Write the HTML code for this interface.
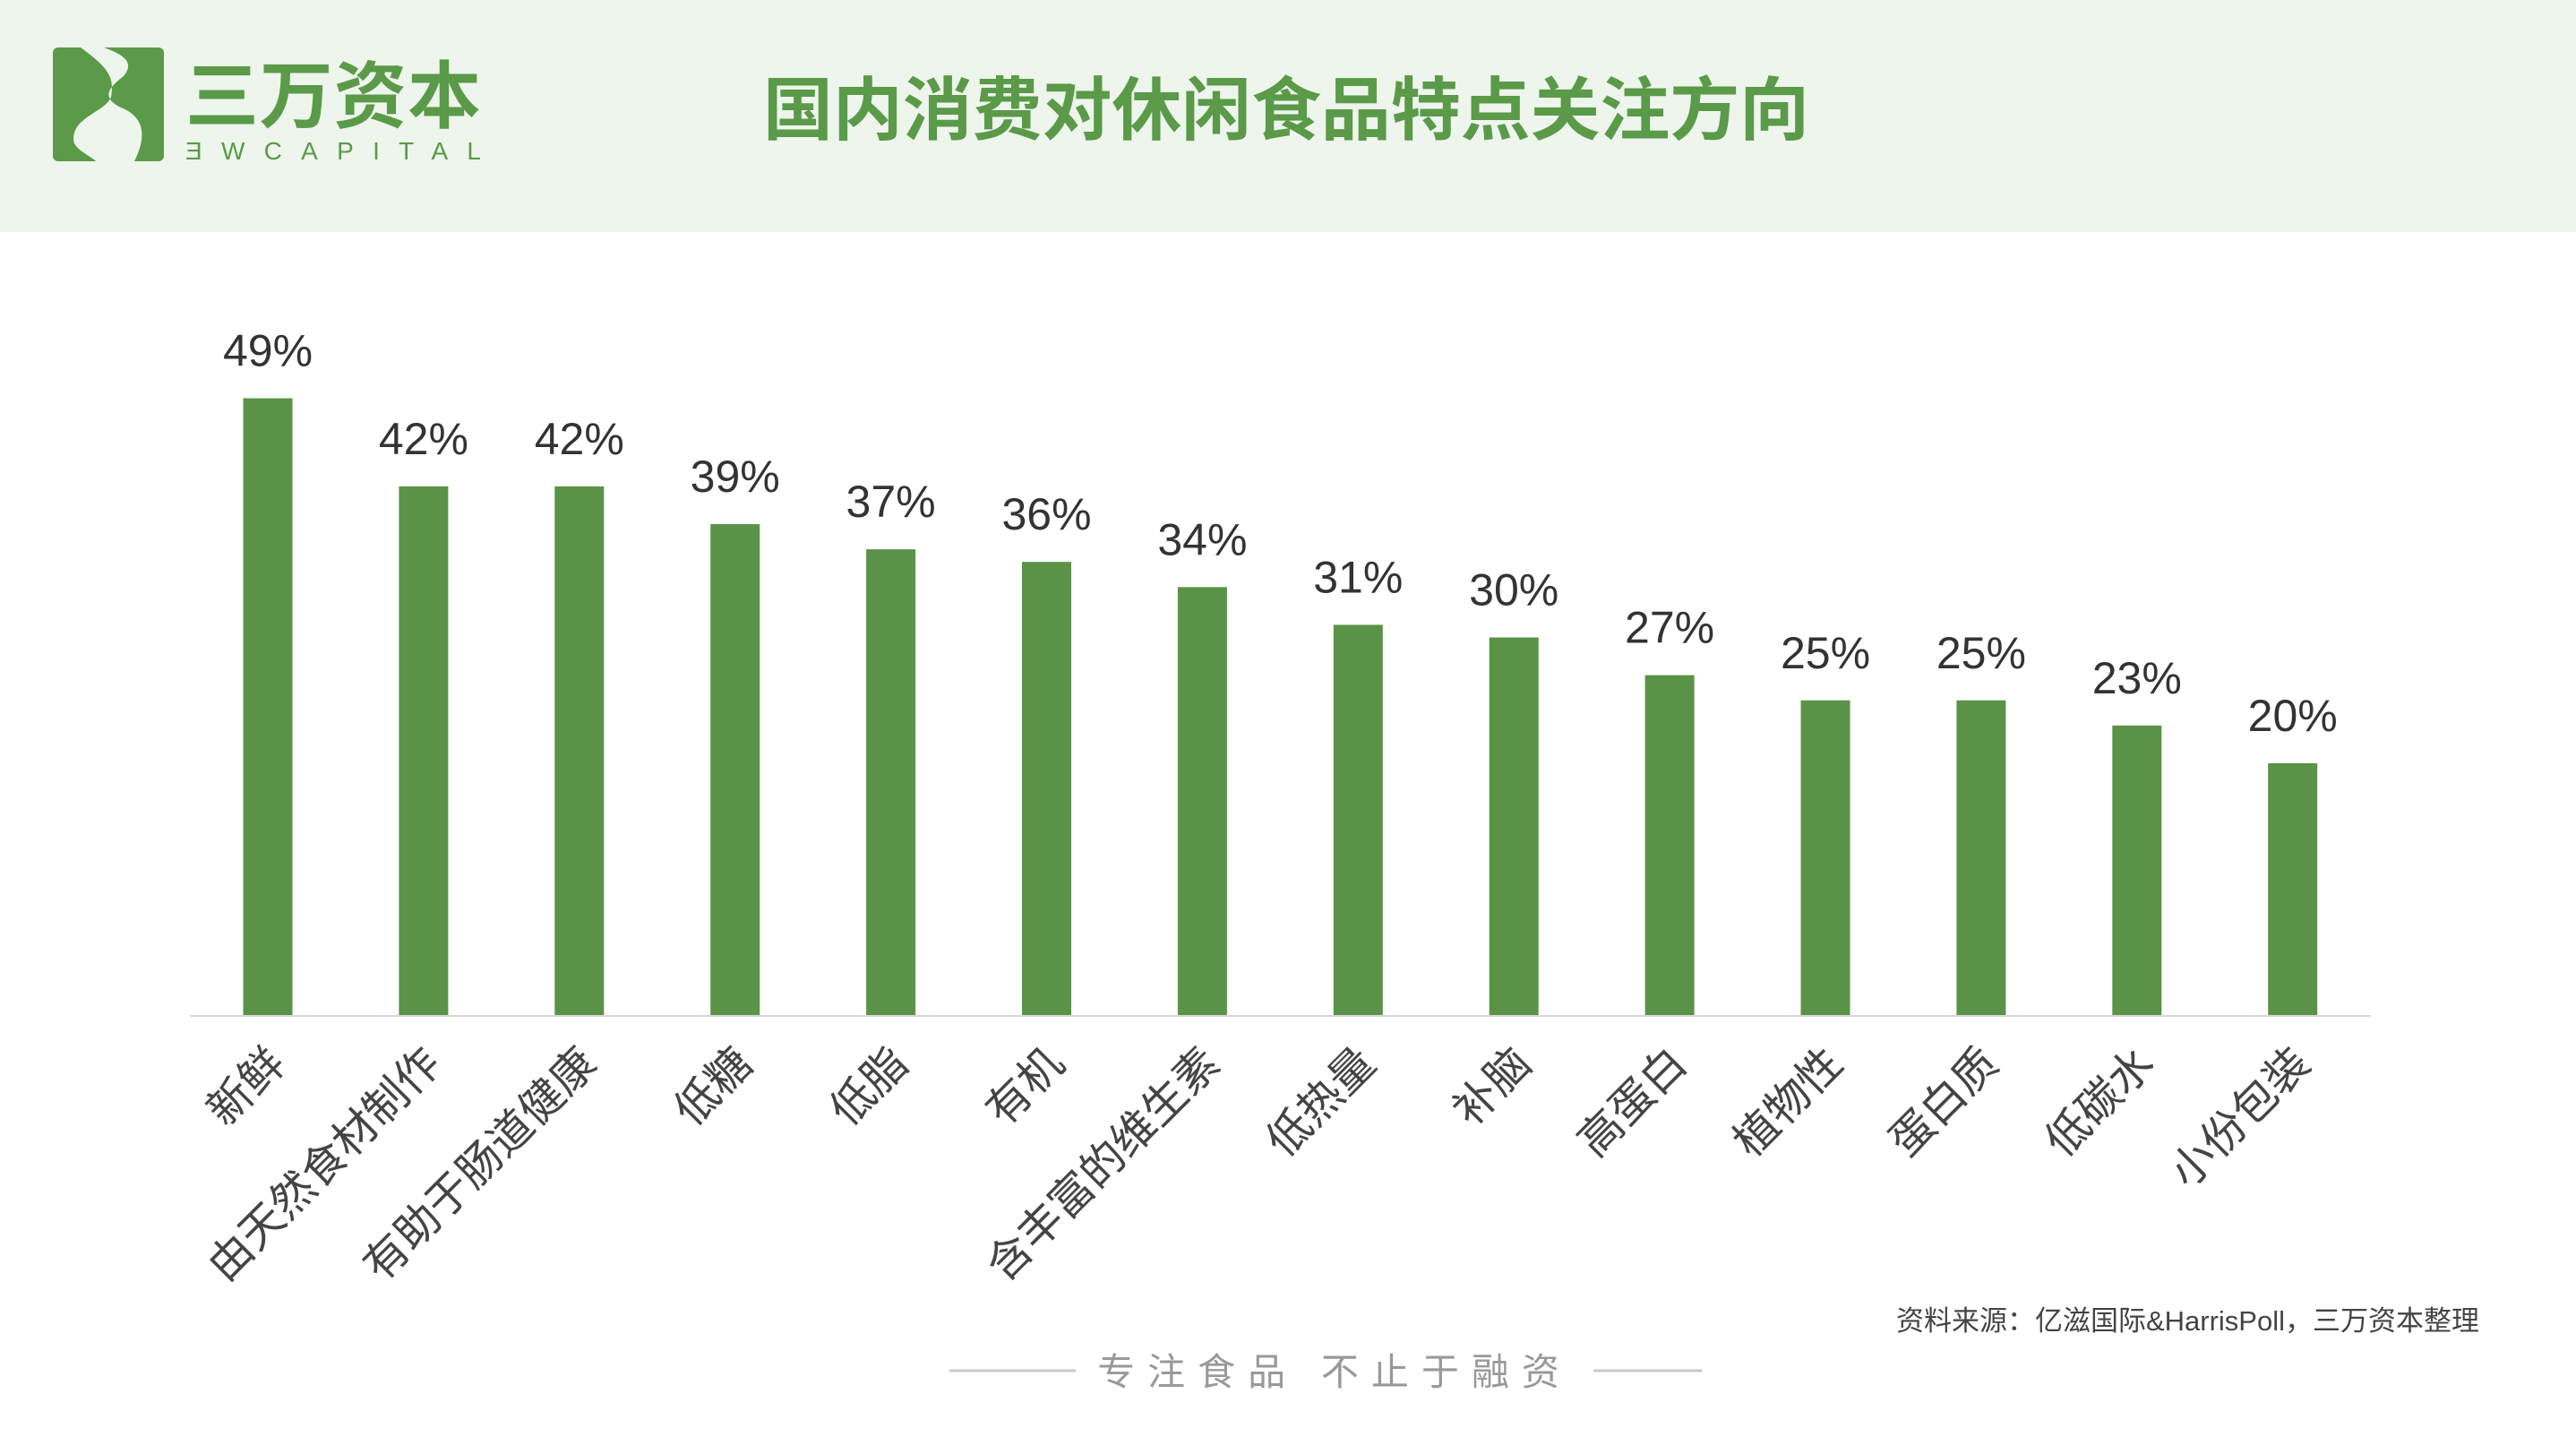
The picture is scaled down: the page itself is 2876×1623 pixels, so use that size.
<!DOCTYPE html>
<html><head><meta charset="utf-8">
<style>
html,body{margin:0;padding:0;background:#fff;}
body{width:2876px;height:1618px;overflow:hidden;font-family:"Liberation Sans","Noto Sans CJK SC",sans-serif;}
svg text{font-family:"Liberation Sans","Noto Sans CJK SC",sans-serif;}
</style></head>
<body>
<svg id="chart" width="2876" height="1618" viewBox="0 0 2876 1618" xmlns="http://www.w3.org/2000/svg">
  <rect x="0" y="0" width="2876" height="259" fill="#eef5ec"/>
  <g>
    <rect x="59" y="53" width="124" height="127" rx="6" fill="#5a9a48"/>
    <path d="M90 53 C 120 75,128 85,124 108 C 118 125,82 130,82 155 C 82 170,110 175,115 190 L 115 180 L 150 180 C 165 150,160 130,135 120 C 115 110,118 100,138 85 C 150 70,140 62,116 53 Z" fill="#eef5ec"/>
    <text x="207" y="136" font-size="82" font-weight="bold" fill="#5a9a48" textLength="330">三万资本</text>
    <text x="207" y="178" font-size="28" fill="#5a9a48" textLength="330" lengthAdjust="spacing">ƎWCAPITAL</text>
  </g>
  <text x="852" y="150" font-size="77" font-weight="bold" fill="#5a9a48" textLength="1168" lengthAdjust="spacingAndGlyphs">国内消费对休闲食品特点关注方向</text>
  <g id="plot"></g>
  <text x="2768" y="1485" text-anchor="end" font-size="31" fill="#444">资料来源：亿滋国际&amp;HarrisPoll，三万资本整理</text>
  <g>
    <line x1="1060" y1="1530" x2="1201" y2="1530" stroke="#c8c8c8" stroke-width="3"/>
    <text x="1490" y="1546" text-anchor="middle" font-size="42" fill="#999" letter-spacing="14">专注食品 不止于融资</text>
    <line x1="1779" y1="1530" x2="1900" y2="1530" stroke="#c8c8c8" stroke-width="3"/>
  </g>
</svg>
<script>
const categories = ["新鲜","由天然食材制作","有助于肠道健康","低糖","低脂","有机","含丰富的维生素","低热量","补脑","高蛋白","植物性","蛋白质","低碳水","小份包装"];
const values = [49,42,42,39,37,36,34,31,30,27,25,25,23,20];
const valueLabels = ["49%","42%","42%","39%","37%","36%","34%","31%","30%","27%","25%","25%","23%","20%"];

const NS = "http://www.w3.org/2000/svg";
const plot = document.getElementById('plot');
const x0 = 212, x1 = 2647, baseY = 1133, pxPer = 14.05;
const step = 173.9, firstC = 299, barW = 55;
const xScale = i => firstC + i * step;
const yScale = v => baseY - v * pxPer;

const axis = document.createElementNS(NS,'line');


axis.setAttribute('x1', x0); axis.setAttribute('x2', x1);
axis.setAttribute('y1', baseY + 1); axis.setAttribute('y2', baseY + 1);
axis.setAttribute('stroke', '#d9d9d9'); axis.setAttribute('stroke-width', '2');
plot.appendChild(axis);

values.forEach((v, i) => {
  const cx = xScale(i), top = yScale(v);
  const r = document.createElementNS(NS,'rect');
  
  
  r.setAttribute('x', cx - barW/2); r.setAttribute('y', top);
  r.setAttribute('width', barW); r.setAttribute('height', baseY - top);
  r.setAttribute('fill', '#5a9347');
  plot.appendChild(r);

  const t = document.createElementNS(NS,'text');
  
  
  t.setAttribute('x', cx); t.setAttribute('y', top - 36);
  t.setAttribute('text-anchor', 'middle');
  t.setAttribute('font-size', '50'); t.setAttribute('fill', '#333');
  t.textContent = valueLabels[i];
  plot.appendChild(t);

  const c = document.createElementNS(NS,'text');
  
  
  const lx = cx + 22, ly = 1190;
  c.setAttribute('x', lx); c.setAttribute('y', ly);
  c.setAttribute('text-anchor', 'end');
  c.setAttribute('font-size', '49'); c.setAttribute('fill', '#444');
  c.setAttribute('transform', `rotate(-45 ${lx} ${ly})`);
  c.textContent = categories[i];
  plot.appendChild(c);
});
</script>
</body></html>
